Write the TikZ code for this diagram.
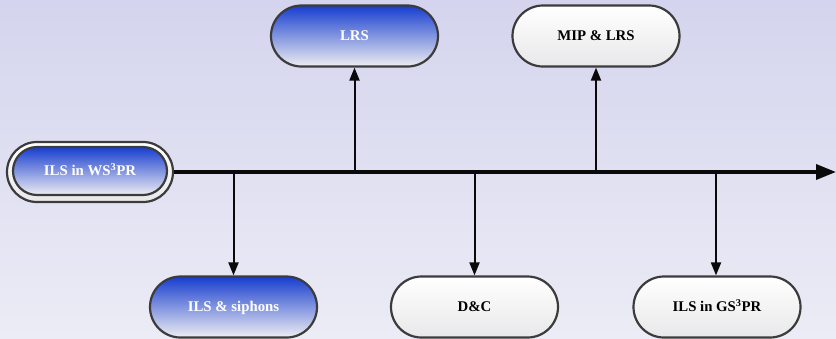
\documentclass[tikz,border=0pt]{standalone}
\usepackage{fontspec}
\setmainfont{Liberation Serif}
\usetikzlibrary{arrows.meta,shapes.misc}

\definecolor{bgTop}{HTML}{D4D4EE}
\definecolor{bgBot}{HTML}{ECECF6}
\definecolor{boxline}{HTML}{3C3C3C}
\definecolor{blueTop}{HTML}{173DCF}
\definecolor{blueMid}{HTML}{7488DC}
\definecolor{blueBot}{HTML}{EEEEF2}
\definecolor{whiteBot}{HTML}{E8E8EA}
\definecolor{ink}{HTML}{0A0A0A}

\newcommand{\labelfont}{\fontsize{14.8bp}{17bp}\selectfont\bfseries}

\begin{document}
\begin{tikzpicture}[x=1bp,y=-1bp,
  capsule/.style={rounded rectangle, draw=boxline, line width=2.2bp,
    minimum width=167bp, minimum height=61bp, inner sep=0pt, font=\labelfont,
    text height=9.8bp, text depth=0pt},
  bluebox/.style={capsule, top color=blueTop, middle color=blueMid,
    bottom color=blueBot, text=white},
  whitebox/.style={capsule, top color=white, bottom color=whiteBot, text=black},
  link/.style={draw=ink, line width=2bp, -{Triangle[length=13bp,width=10bp]}},
  axis/.style={draw=ink, line width=3.5bp, -{Triangle[length=20bp,width=15bp]}}]

% background
\fill[top color=bgTop, bottom color=bgBot] (0,0) rectangle (836,338);
\useasboundingbox (0,0) rectangle (836,338);

% starting capsule with a double outline
\node[whitebox, minimum width=166bp, minimum height=60bp] (ring) at (90,172) {};
\node[bluebox, minimum width=154bp, minimum height=48bp] (ws) at (90,171)
  {ILS in WS\textsuperscript{3}PR};

% upper branch
\node[bluebox]  (lrs) at (354.5,36) {LRS};
\node[whitebox] (mip) at (596,36)   {MIP \& LRS};

% lower branch
\node[bluebox]  (sip) at (233.5,307) {ILS \& siphons};
\node[whitebox] (dc)  at (474.5,307) {D\&C};
\node[whitebox] (gs)  at (717,307)   {ILS in GS\textsuperscript{3}PR};

% points on the timeline
\coordinate (tend) at (836,172);
\coordinate (t1) at (233.5,172);
\coordinate (t2) at (354.5,172);
\coordinate (t3) at (474.5,172);
\coordinate (t4) at (596,172);
\coordinate (t5) at (716,172);

\draw[link] (t1) -- (sip.north);
\draw[link] (t2) -- (lrs.south);
\draw[link] (t3) -- (dc.north);
\draw[link] (t4) -- (mip.south);
\draw[link] (t5) -- (t5 |- gs.north);

\draw[axis] (ring.east) -- (tend);
\end{tikzpicture}
\end{document}
